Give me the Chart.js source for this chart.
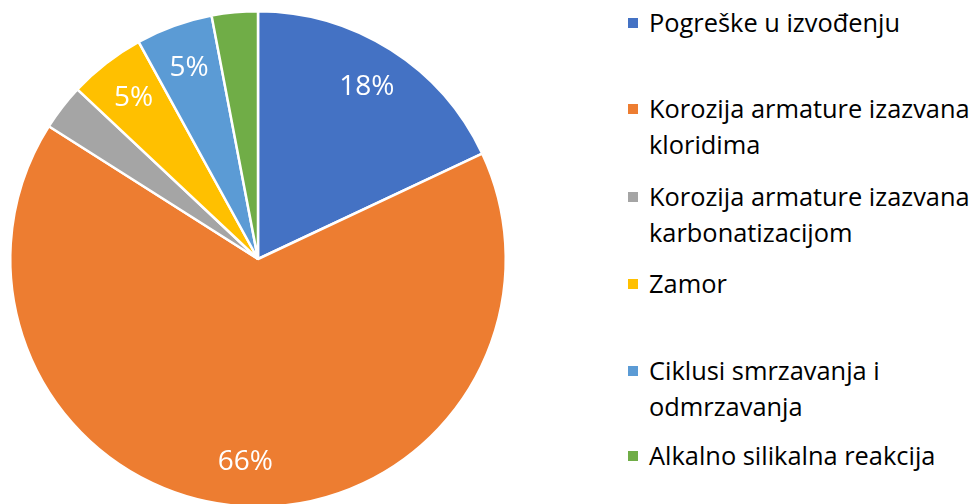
<!DOCTYPE html>
<html>
<head>
<meta charset="utf-8">
<script src="https://cdn.jsdelivr.net/npm/chart.js@4"></script>
<style>
  html, body { margin: 0; padding: 0; background: #fff; overflow: hidden; width: 975px; height: 504px; }
  #pie { position: absolute; left: 0; top: 0; }
  .item { position: absolute; left: 628px; width: 347px; font-family: "Open Sans", sans-serif; font-size: 25.4px; line-height: 36px; color: #000; }
  .item .box { position: absolute; left: 0; width: 10px; height: 10px; }
  .item .txt { margin-left: 21px; }
</style>
</head>
<body>
<canvas id="pie" width="516" height="518"></canvas>
<div id="legend"></div>
<script>
// categories and values
var categories = [
  "Pogreške u izvođenju",
  "Korozija armature izazvana kloridima",
  "Korozija armature izazvana karbonatizacijom",
  "Zamor",
  "Ciklusi smrzavanja i odmrzavanja",
  "Alkalno silikalna reakcija"
];
var shares = [18, 66, 3, 5, 5, 3];
var colors = ["#4472C4", "#ED7D31", "#A5A5A5", "#FFC000", "#5B9BD5", "#70AD47"];

// legend layout (top of each legend item, px)
var legendTops = [4, 90, 178, 265, 352, 437];

// percentage labels inside the slices (small slices have none, like the original)
var sliceLabels = {
  id: "sliceLabels",
  afterDatasetsDraw: function (chart) {
    var ctx = chart.ctx;
    var meta = chart.getDatasetMeta(0);
    ctx.save();
    ctx.fillStyle = "#fff";
    ctx.font = "28px 'Open Sans', sans-serif";
    ctx.textAlign = "center";
    ctx.textBaseline = "middle";
    meta.data.forEach(function (arc, i) {
      var v = shares[i];
      if (v < 4) return;
      var p = arc.getProps(["x", "y", "startAngle", "endAngle", "outerRadius"]);
      var mid = (p.startAngle + p.endAngle) / 2;
      var r = p.outerRadius * 0.82;
      ctx.fillText(v + "%", p.x + Math.cos(mid) * r, p.y + Math.sin(mid) * r);
    });
    ctx.restore();
  }
};

var ctx = document.getElementById("pie").getContext("2d");
var myChart = new Chart(ctx, {
  type: "pie",
  data: {
    labels: categories,
    datasets: [{
      data: shares,
      backgroundColor: colors,
      borderColor: "#fff",
      borderWidth: 2.5,
      hoverOffset: 0
    }]
  },
  options: {
    responsive: false,
    animation: false,
    layout: { padding: { left: 9, right: 9, top: 10, bottom: 10 } },
    plugins: {
      legend: { display: false },
      tooltip: { enabled: false }
    }
  },
  plugins: [sliceLabels]
});

// legend on the right
var legend = document.getElementById("legend");
categories.forEach(function (name, i) {
  var item = document.createElement("div");
  item.className = "item";
  item.style.top = legendTops[i] + "px";
  var box = document.createElement("div");
  box.className = "box";
  box.style.top = "14px";
  box.style.background = colors[i];
  var txt = document.createElement("div");
  txt.className = "txt";
  txt.textContent = name;
  item.appendChild(box);
  item.appendChild(txt);
  legend.appendChild(item);
});
</script>
</body>
</html>
